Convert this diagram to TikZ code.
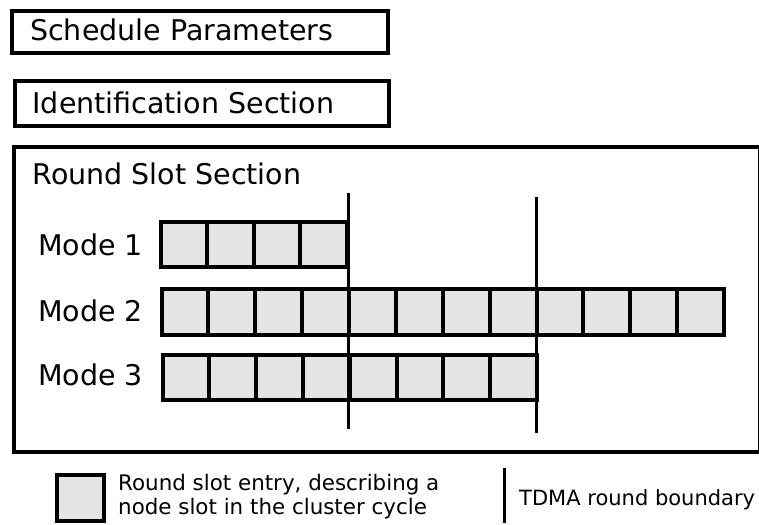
\documentclass[tikz,border=0pt]{standalone}
\usepackage{fontspec}
\setmainfont{DejaVu Sans}
\definecolor{slotgray}{HTML}{E4E4E4}
\begin{document}
\begin{tikzpicture}[x=1pt,y=-1pt,
  panel/.style={draw=black,line width=4pt,fill=white,rectangle,inner sep=0pt,outer sep=0pt},
  headtext/.style={anchor=base west,inner sep=0pt,font=\fontsize{28.5}{34}\selectfont},
  legtext/.style={anchor=base west,inner sep=0pt,font=\fontsize{21.4}{24}\selectfont},
  slotcell/.style={draw=black,fill=slotgray,line width=4pt,rectangle,inner sep=0pt,outer sep=0pt},
  boundary/.style={draw=black,line width=3pt}]
\useasboundingbox (0,0) rectangle (759,524);
\clip (0,0) rectangle (759,524);

% section boxes
\node[panel,minimum width=376pt,minimum height=42pt] (sched) at (200,32) {};
\node[headtext] (schedtxt) at (30,40.7) {Schedule Parameters};
\node[panel,minimum width=374.5pt,minimum height=45pt] (ident) at (201.75,103.5) {};
\node[headtext] (identtxt) at (32.3,113.3) {Identification Section};
\node[panel,minimum width=746pt,minimum height=305pt] (rss) at (387,299.5) {};
\node[headtext] (rsstxt) at (32.3,184.3) {Round Slot Section};

% mode labels
\node[headtext] (mode1) at (38,255) {Mode 1};
\node[headtext] (mode2) at (38,321) {Mode 2};
\node[headtext] (mode3) at (38,385) {Mode 3};

% slot rows
\foreach \i in {1,...,4}
  \node[slotcell,minimum width=46.625pt,minimum height=45pt] (ma\i) at ({160.5+46.625*(\i-0.5)},244.5) {};
\foreach \i in {1,...,12}
  \node[slotcell,minimum width=46.875pt,minimum height=46pt] (mb\i) at ({161.5+46.875*(\i-0.5)},312) {};
\foreach \i in {1,...,8}
  \node[slotcell,minimum width=46.8pt,minimum height=45pt] (mc\i) at ({162.5+46.8*(\i-0.5)},377) {};

% TDMA round boundaries
\coordinate (b1top) at (348,193);
\coordinate (b1bot) at (348,429);
\coordinate (b2top) at (536,197);
\coordinate (b2bot) at (536,433);
\draw[boundary] (b1top) -- (b1bot);
\draw[boundary] (b2top) -- (b2bot);

% legend
\node[slotcell,line width=4.5pt,minimum width=47pt,minimum height=46pt] (legslot) at (80.5,498) {};
\node[legtext] (legslottxt1) at (118,490) {Round slot entry, describing a};
\node[legtext] (legslottxt2) at (118,514) {node slot in the cluster cycle};
\coordinate (legtop) at (504,468);
\coordinate (legbot) at (504,523);
\draw[boundary] (legtop) -- (legbot);
\node[legtext,font=\fontsize{21}{24}\selectfont] (legbndtxt) at (519,505) {TDMA round boundary};
\end{tikzpicture}
\end{document}
